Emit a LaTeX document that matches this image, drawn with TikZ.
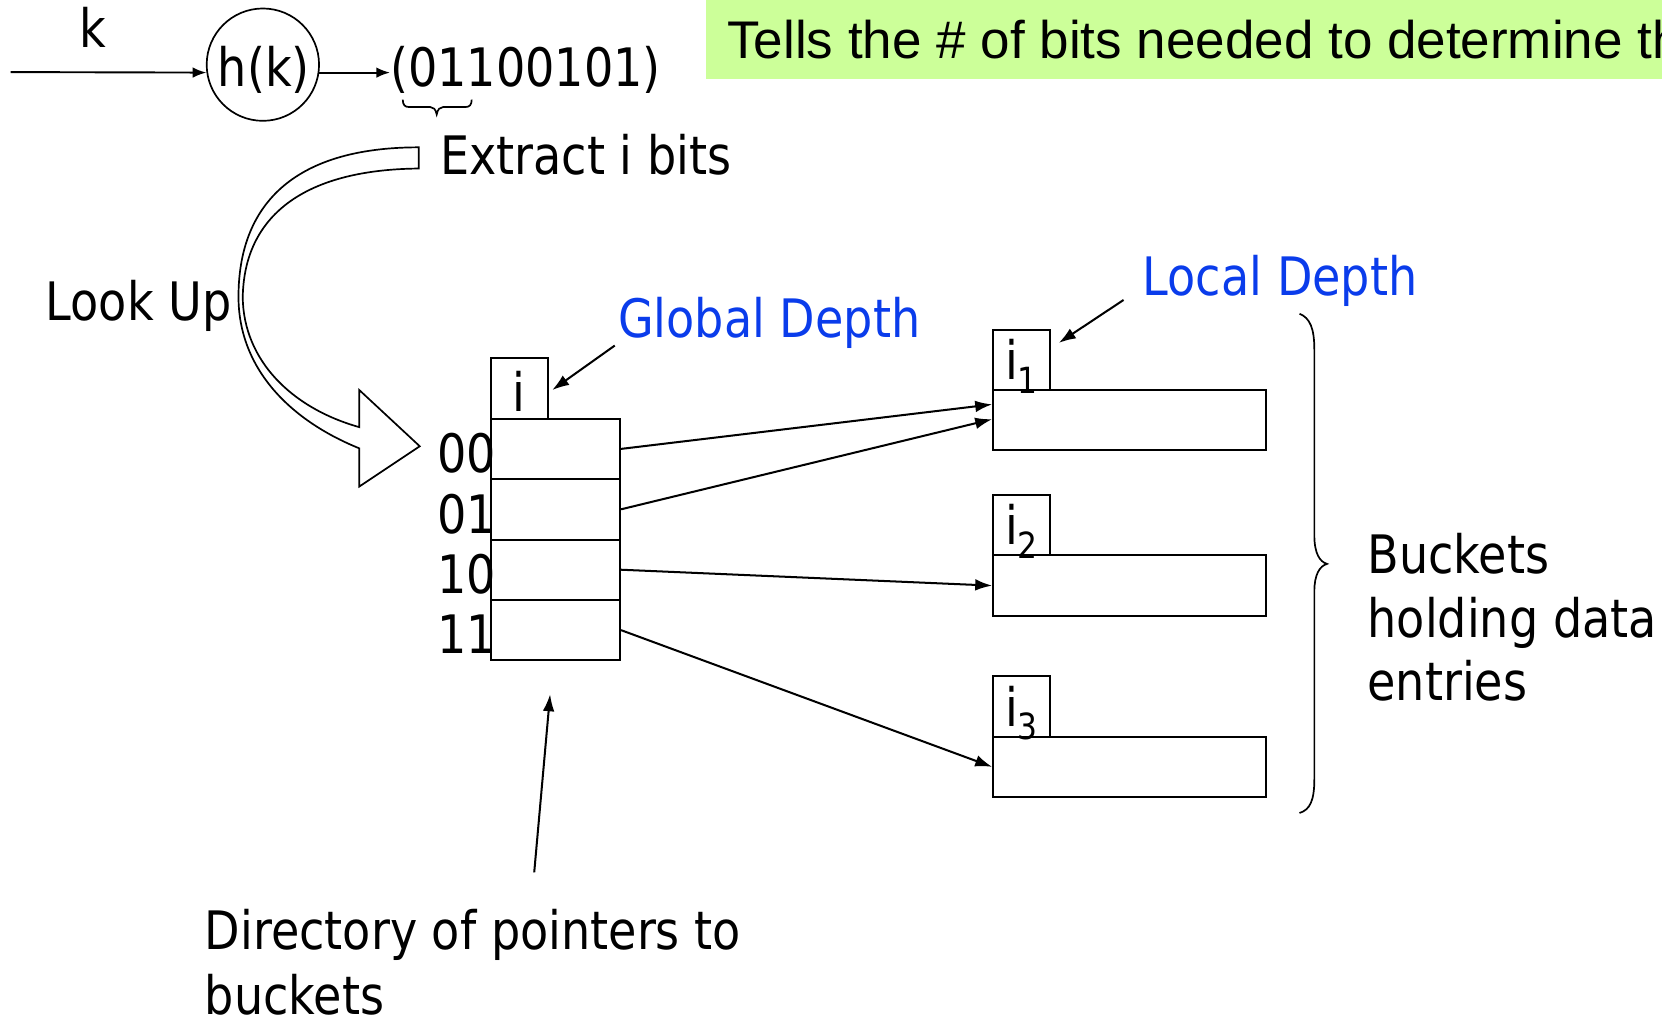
\documentclass[tikz,border=0pt]{standalone}
\usepackage{fontspec}
\setmainfont{DejaVu Sans}[FakeStretch=0.87]
\newfontfamily\notefont{Liberation Sans}
\usetikzlibrary{arrows.meta}
\definecolor{depthblue}{RGB}{10,60,235}
\definecolor{notegreen}{RGB}{204,255,153}
\begin{document}
\begin{tikzpicture}[x=1pt,y=-1pt,
  box/.style={draw, line width=1.9pt, inner sep=0pt},
  ptr/.style={-{Latex[length=16pt,width=11pt]}, line width=1.9pt},
  ptrs/.style={-{Latex[length=13pt,width=10pt]}, line width=1.8pt},
  lbl/.style={inner sep=0pt, font=\fontsize{50}{60}\selectfont},
  thin/.style={line width=1.6pt},
]
\useasboundingbox (0,0) rectangle (1568,960);
\clip (0,0) rectangle (1568,960);

% note bar at the top
\fill[notegreen] (666,0) rectangle (1568,75);
\node[inner sep=0pt, anchor=base west, font=\notefont\fontsize{50}{60}\selectfont] (note)
  at (686,55) {Tells the \# of bits needed to determine the};

% hashing the key
\node[lbl, anchor=base] (k) at (88,45) {k};
\coordinate (kin) at (10,68);
\node[circle, draw, thin, minimum size=106pt, inner sep=0pt] (hk) at (248,61) {};
\node[lbl, anchor=base] (hktext) at (249,82) {h(k)};
\node[lbl, anchor=base west] (bits) at (368,82) {(01100101)};
\draw[ptrs] (kin) -- (hk.188);
\draw[ptrs] (hk.-8) -- (hk.-8 -| bits.west);

% brace under the first two bits
\draw[thin] (380,94) .. controls (380,99) and (382,101) .. (386,101) -- (406,101)
  .. controls (409,101) and (411,103) .. (412,108)
  .. controls (413,103) and (415,101) .. (418,101) -- (439,101)
  .. controls (443,101) and (445,99) .. (445,94);
\node[lbl, anchor=base west] (extract) at (415,165) {Extract i bits};

% curved block arrow for the look-up
\draw[thin, fill=white] (395,139) .. controls (275,139) and (225,195) .. (225,280)
  .. controls (225,345) and (270,395) .. (339,423)
  -- (339,459) -- (396,421) -- (339,368) -- (339,403)
  .. controls (275,385) and (230,340) .. (229,281)
  .. controls (230,205) and (285,160) .. (395,159) -- cycle;
\node[lbl, anchor=base west] (lookup) at (43,302) {Look Up};

% directory
\node[box, minimum width=54pt, minimum height=57pt] (gi) at (490,366.5) {};
\node[lbl, anchor=base] (gitext) at (490,388) {i};
\foreach \b [count=\n from 0] in {00,01,10,11} {
  \node[box, minimum width=122pt, minimum height=57pt] (d\b) at (524,423.5+57*\n) {};
  \node[lbl, anchor=base east] (l\b) at (468,446+57*\n) {\b};
}
\node[lbl, anchor=base west, text=depthblue] (global) at (583,318) {Global Depth};
\coordinate (gdtail) at (580,326);
\draw[ptr] (gdtail) -- ([xshift=3pt,yshift=-1.5pt]gi.east);

% buckets
\foreach \n/\y in {1/339.5,2/495.5,3/666.5} {
  \node[box, minimum width=54pt, minimum height=57pt] (bi\n) at (964,\y) {};
  \node[box, minimum width=257pt, minimum height=57pt] (b\n) at (1065.5,\y+57) {};
  \node[lbl, anchor=base west] (li\n) at (948,\y+18.5) {i\raisebox{-13pt}{\fontsize{34}{34}\selectfont \n}};
}
\node[lbl, anchor=base west, text=depthblue] (local) at (1078,279) {Local Depth};
\coordinate (ldtail) at (1060,283);
\draw[ptr] (ldtail) -- ([xshift=7pt,yshift=16pt]bi1.east);

% directory pointers
\draw[ptr] (d00.east) -- ([yshift=15pt]b1.west);
\draw[ptr] (d01.east) -- ([yshift=1pt]b1.west);
\draw[ptr] (d10.east) -- (b2.west);
\draw[ptr] (d11.east) -- (b3.west);

% brace over the buckets
\draw[thin] (1226,296) .. controls (1236,300) and (1240,310) .. (1240,330) -- (1240,505)
  .. controls (1240,522) and (1245,530) .. (1252,532)
  .. controls (1245,534) and (1240,542) .. (1240,558) -- (1240,735)
  .. controls (1240,755) and (1236,764) .. (1226,767);
\node[lbl, anchor=base west] (bk1) at (1290,541) {Buckets};
\node[lbl, anchor=base west] (bk2) at (1290,601) {holding data};
\node[lbl, anchor=base west] (bk3) at (1290,661) {entries};

% directory caption
\coordinate (dirtail) at (504,823);
\coordinate (dirtip) at (519,655);
\draw[ptr] (dirtail) -- (dirtip);
\node[lbl, anchor=base west] (dir1) at (193,896) {Directory of pointers to};
\node[lbl, anchor=base west] (dir2) at (193,957) {buckets};
\end{tikzpicture}
\end{document}
